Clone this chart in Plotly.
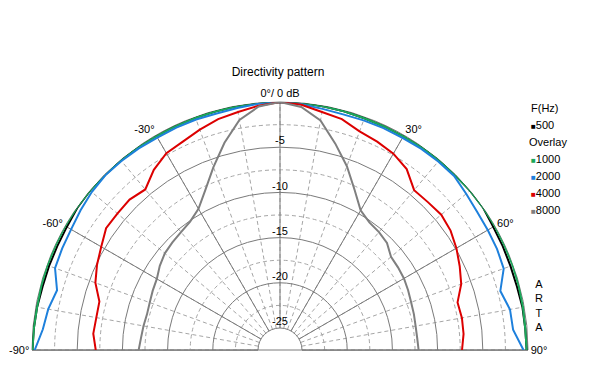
import plotly.graph_objects as go

# ---------------- data ----------------
angles = list(range(-90, 91, 5))

f500 = [-0.05, -0.1, -0.15, -0.25, -0.25, -0.25, -0.2, -0.05, 0.0, -0.05, -0.05, -0.1, -0.1,
        -0.1, -0.1, -0.1, -0.05, 0.0, 0.0, 0.0, -0.05, -0.1, -0.15, -0.15, -0.15, -0.1,
        -0.05, -0.05, 0.0, 0.0, -0.2, -0.25, -0.3, -0.3, -0.2, -0.2, -0.15]
f1000 = [-0.05, -0.1, -0.15, -0.1, -0.05, -0.05, 0.0, 0.0, 0.0, -0.05, -0.05, -0.1, -0.1,
         -0.1, -0.1, -0.1, -0.05, 0.0, 0.0, 0.0, -0.05, -0.1, -0.15, -0.15, -0.15, -0.1,
         -0.05, -0.05, 0.0, 0.0, 0.0, -0.05, -0.05, -0.1, -0.15, -0.2, -0.15]
f2000 = [-0.3, -1.1, -1.4, -1.9, -0.95, -0.85, -0.75, -0.5, -0.25, -0.1, -0.15, -0.2, -0.3,
         -0.3, -0.3, -0.35, -0.25, -0.1, 0.0, -0.15, -0.35, -0.45, -0.4, -0.35, -0.35, -0.25,
         -0.2, -0.2, -0.55, -0.8, -0.9, -0.95, -1.1, -2.2, -1.6, -1.55, -0.5]
f4000 = [-7.05, -6.7, -6.8, -6.75, -5.7, -5.1, -4.6, -3.95, -3.95, -3.9, -4.25, -3.1, -2.3,
         -2.0, -1.5, -1.0, -0.7, -0.3, 0.0, -0.2, -0.7, -1.0, -1.7, -2.0, -2.35, -3.0,
         -4.35, -4.3, -4.15, -4.4, -4.9, -5.5, -6.1, -7.1, -7.0, -7.05, -7.3]
f8000 = [-11.8, -12.0, -12.1, -12.2, -12.1, -11.9, -11.7, -11.2, -10.8, -10.6, -10.4, -10.1, -9.4,
         -7.9, -5.9, -3.7, -1.6, -0.4, 0.0, -0.45, -1.65, -3.8, -5.8, -7.9, -9.6, -10.2,
         -10.4, -10.7, -11.4, -11.5, -11.6, -11.8, -12.0, -12.1, -12.2, -12.2, -12.1]

series_names = ["500", "1000", "2000", "4000", "8000"]
series_values = [f500, f1000, f2000, f4000, f8000]
series_colors = ["#000000", "#1aa85a", "#1e80dc", "#dc0000", "#7f7f7f"]

legend_rows = [("F(Hz)", None), ("500", "#000000"), ("Overlay", None),
               ("1000", "#1aa85a"), ("2000", "#1e80dc"), ("4000", "#dc0000"),
               ("8000", "#7f7f7f")]

angle_tick_vals = [-90, -60, -30, 0, 30, 60, 90]
angle_tick_text = ["-90°", "-60°", "-30°", "0°/ 0 dB", "30°", "60°", "90°"]
db_major = [-25, -20, -15, -10, -5]
db_labels = ["-25", "-20", "-15", "-10", "-5"]
db_minor = [-22.5, -17.5, -12.5, -7.5, -2.5]
angle_minor = list(range(-90, 91, 10))
db_range = [-25, 0]

# ---------------- layout helpers ----------------
OFF = 8                      # default page margin of the html body
W, H = 610 - OFF, 376 - OFF
FONT = "Liberation Sans, Arial, sans-serif"


def px_x(sx):
    return (sx - OFF) / W


def px_y(sy):
    return 1 - (sy - OFF) / H


dom_x = [px_x(32), px_x(528)]
dom_y = [px_y(350), px_y(102)]
hole = 22 / 248
solid_grid = "#7a7a7a"
dash_grid = "#a6a6a6"
DASH = "4px,3px"

fig = go.Figure()

# keeps the background (dashed-grid) polar subplot alive
fig.add_trace(go.Scatterpolar(r=[None], theta=[None], subplot="polar",
                              showlegend=False, hoverinfo="skip"))

for name, vals, color in zip(series_names, series_values, series_colors):
    fig.add_trace(go.Scatterpolar(
        r=vals, theta=angles, mode="lines", name=name,
        line=dict(color=color, width=2), subplot="polar2",
        showlegend=False))

# radial dB labels along the 0° line
fig.add_trace(go.Scatterpolar(
    r=db_major, theta=[0] * len(db_major), mode="text", text=db_labels,
    textposition="top center", textfont=dict(size=11, color="black", family=FONT),
    subplot="polar2", showlegend=False, hoverinfo="skip"))

common_polar = dict(domain=dict(x=dom_x, y=dom_y), sector=[0, 180], hole=hole)

# legend block (ARTA style: small coloured square right before the label)
annotations = []
row_y0, row_step = 108, 17
for i, (label, color) in enumerate(legend_rows):
    if color is None:
        txt = label
        xs = 529 if label == "F(Hz)" else 527
    else:
        txt = f'<span style="color:{color};font-size:8px">■</span>{label}'
        xs = 529
    annotations.append(dict(text=txt, xref="paper", yref="paper",
                            x=px_x(xs), y=px_y(row_y0 + i * row_step),
                            xanchor="left", yanchor="middle", showarrow=False,
                            font=dict(size=11, color="black", family=FONT)))

annotations.append(dict(text="A<br>R<br>T<br>A", xref="paper", yref="paper",
                        x=px_x(539), y=px_y(305), showarrow=False,
                        font=dict(size=11, color="black", family=FONT),
                        xanchor="center", yanchor="middle"))

fig.update_layout(
    width=W, height=H,
    margin=dict(l=0, r=0, t=0, b=0),
    paper_bgcolor="white",
    showlegend=False,
    font=dict(family=FONT, size=11, color="black"),
    title=dict(text="Directivity pattern", x=px_x(278), y=px_y(72),
               xanchor="center", yanchor="middle",
               font=dict(size=12, color="black", family=FONT)),
    polar=dict(
        **common_polar, bgcolor="white",
        angularaxis=dict(direction="clockwise", rotation=90, tickmode="array",
                         tickvals=angle_minor, showticklabels=False, ticks="",
                         showline=False, showgrid=True, gridcolor=dash_grid,
                         griddash=DASH, gridwidth=1),
        radialaxis=dict(range=db_range, tickmode="array", tickvals=db_minor,
                        showticklabels=False, ticks="", showline=False,
                        showgrid=True, gridcolor=dash_grid, griddash=DASH,
                        gridwidth=1),
    ),
    polar2=dict(
        **common_polar, bgcolor="rgba(0,0,0,0)",
        angularaxis=dict(direction="clockwise", rotation=90, tickmode="array",
                         tickvals=angle_tick_vals, ticktext=angle_tick_text,
                         ticks="", showline=True, linecolor=solid_grid, linewidth=1,
                         showgrid=True, gridcolor=solid_grid, gridwidth=1,
                         tickfont=dict(size=11, color="black", family=FONT),
                         layer="below traces"),
        radialaxis=dict(range=db_range, tickmode="array", tickvals=db_major,
                        showticklabels=False, ticks="", showline=False,
                        showgrid=True, gridcolor=solid_grid, gridwidth=1,
                        layer="below traces"),
    ),
    shapes=[dict(type="line", xref="paper", yref="paper",
                 x0=dom_x[0], x1=dom_x[1], y0=dom_y[0], y1=dom_y[0],
                 line=dict(color=solid_grid, width=1), layer="below")],
    annotations=annotations,
)

fig.write_html("out.html")
